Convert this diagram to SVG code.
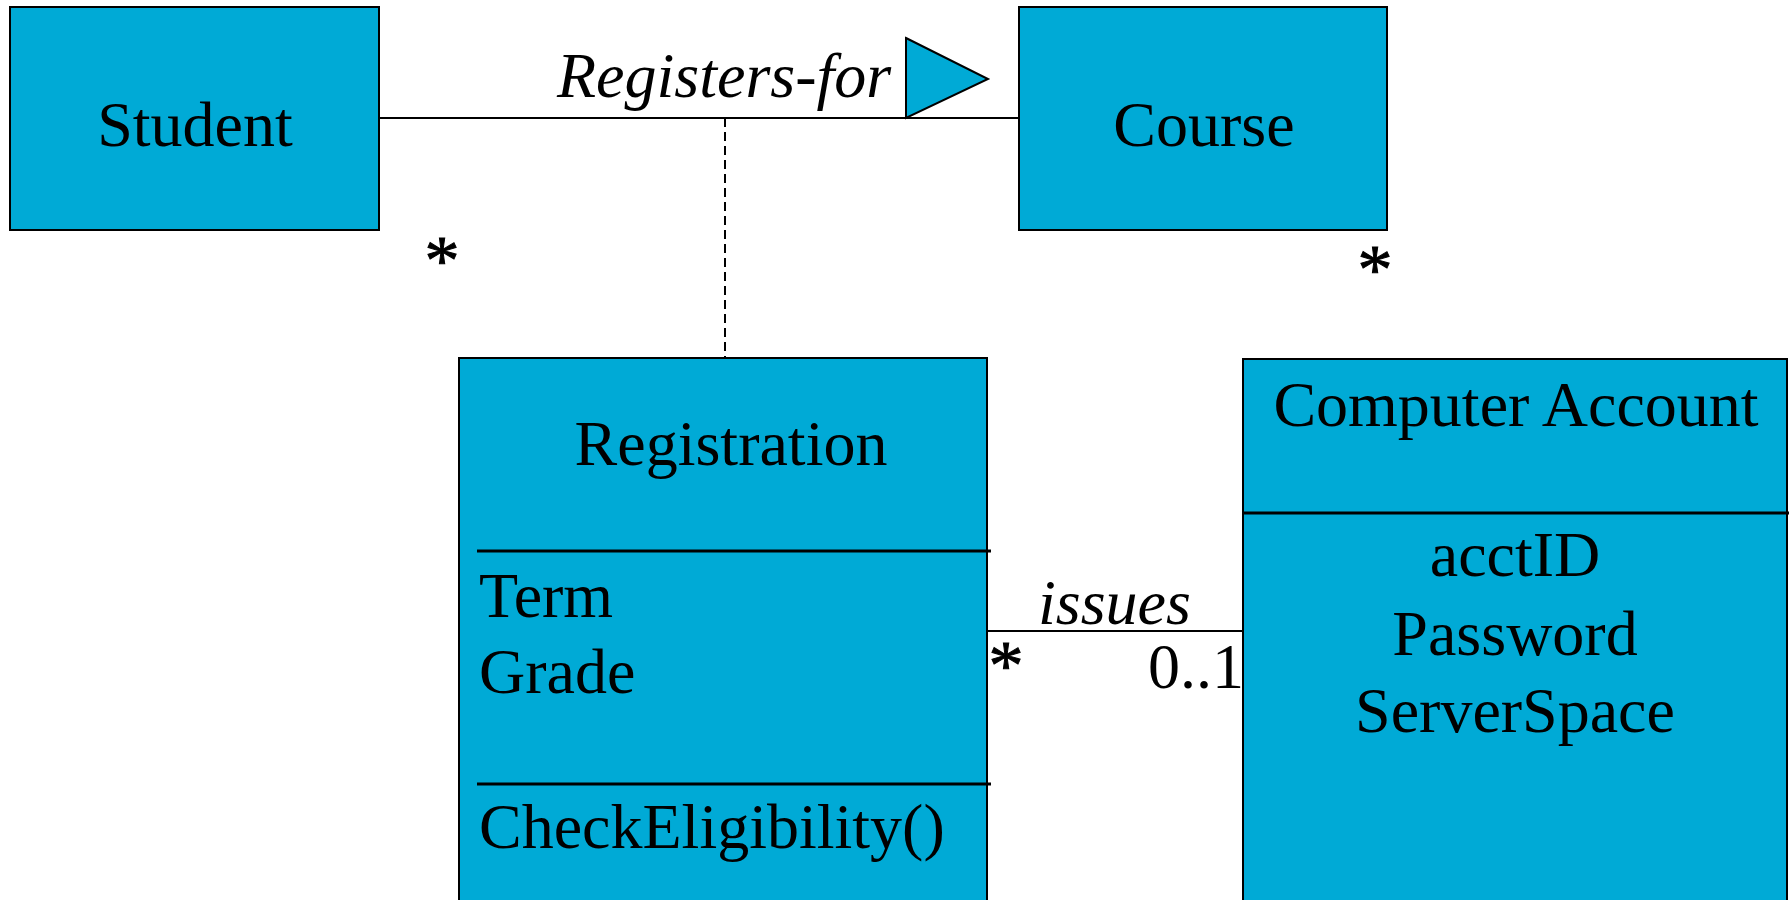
<svg xmlns="http://www.w3.org/2000/svg" width="1789" height="900" viewBox="0 0 1789 900">
<style>
.box{fill:#00AAD6;stroke:#000;stroke-width:2}
.sep{stroke:#000;stroke-width:3}
.t{font-family:"Liberation Serif","Times New Roman",serif;font-size:64px;fill:#000}
.i{font-style:italic}
.m{text-anchor:middle}
.a{font-size:70px;stroke:#000;stroke-width:1}
.ln{stroke:#000;stroke-width:2;fill:none}
</style>
<rect width="1789" height="900" fill="#fff"/>
<g id="connectors">
<line class="ln" x1="379" y1="118" x2="1019" y2="118"/>
<line class="ln" x1="725" y1="118" x2="725" y2="358" stroke-dasharray="9 5"/>
<line class="ln" x1="987" y1="631" x2="1243" y2="631"/>
<polygon points="906,38 988,79 906,118" fill="#00AAD6" stroke="#000" stroke-width="2"/>
<text class="t i" x="557" y="97">Registers-for</text>
<text class="t i" x="1038" y="624">issues</text>
<text class="t m a" x="442" y="284">*</text>
<text class="t m a" x="1375" y="293">*</text>
<text class="t m a" x="1006" y="689">*</text>
<text class="t" x="1148" y="688">0..1</text>
</g>
<g id="student">
<rect class="box" x="10" y="7" width="369" height="223"/>
<text class="t m" x="195" y="146">Student</text>
</g>
<g id="course">
<rect class="box" x="1019" y="7" width="368" height="223"/>
<text class="t m" x="1204" y="146">Course</text>
</g>
<g id="registration">
<rect class="box" x="459" y="358" width="528" height="560"/>
<line class="sep" x1="477" y1="551" x2="991" y2="551"/>
<line class="sep" x1="477" y1="784" x2="991" y2="784"/>
<text class="t m" x="731" y="465">Registration</text>
<text class="t" x="479" y="617">Term</text>
<text class="t" x="479" y="693">Grade</text>
<text class="t" x="479" y="848">CheckEligibility()</text>
</g>
<g id="computer-account">
<rect class="box" x="1243" y="359" width="544" height="560"/>
<line class="sep" x1="1243" y1="513" x2="1789" y2="513"/>
<text class="t m" x="1516" y="426">Computer Account</text>
<text class="t m" x="1515" y="576">acctID</text>
<text class="t m" x="1515" y="655">Password</text>
<text class="t m" x="1515" y="732">ServerSpace</text>
</g>
</svg>
